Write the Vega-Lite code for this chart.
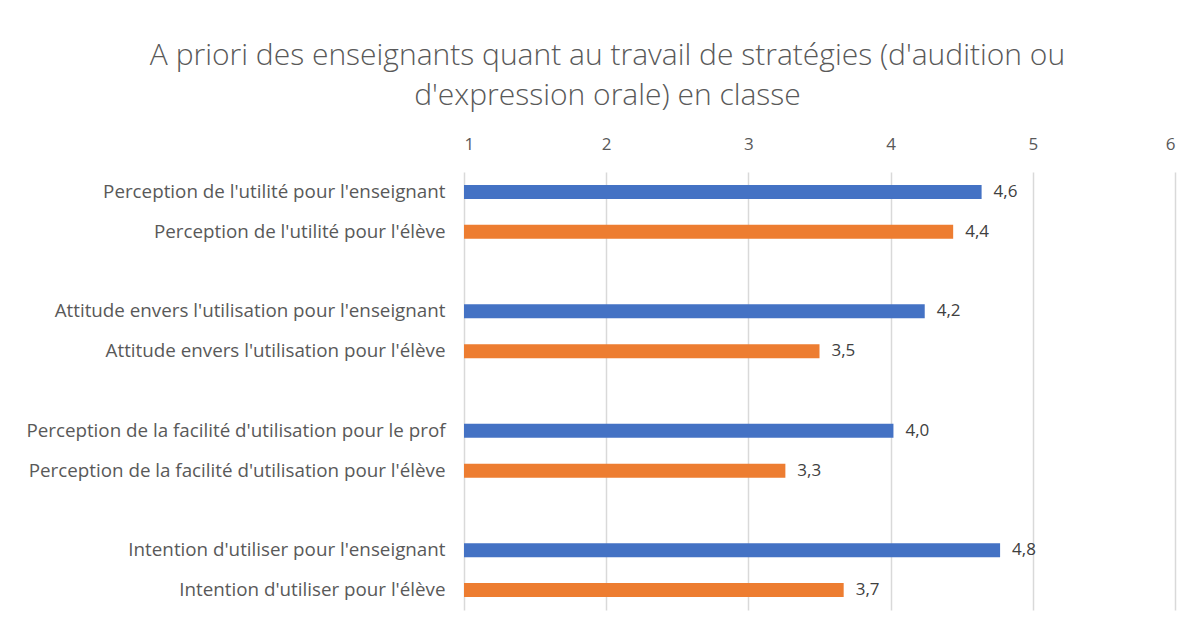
{
  "$schema": "https://vega.github.io/schema/vega-lite/v6.json",
  "autosize": {"type": "none"},
  "width": 711,
  "height": 438,
  "padding": {"left": 464, "top": 172, "right": 19, "bottom": 13},
  "background": "white",
  "config": {
    "locale": {"number": {"decimal": ",", "thousands": " ", "grouping": [3], "currency": ["", " €"]}},
    "view": {"stroke": null},
    "font": "Open Sans"
  },
  "title": {
    "text": ["A priori des enseignants quant au travail de stratégies (d'audition ou", "d'expression orale) en classe"],
    "anchor": "middle",
    "frame": "group",
    "dx": -212,
    "font": "Open Sans",
    "fontSize": 30,
    "fontWeight": 300,
    "color": "#595959",
    "lineHeight": 40,
    "offset": 24
  },
  "data": {
    "values": [
      {"categorie": "Perception de l'utilité pour l'enseignant", "groupe": "enseignant", "valeur": 4.64},
      {"categorie": "Perception de l'utilité pour l'élève", "groupe": "élève", "valeur": 4.44},
      {"categorie": "Attitude envers l'utilisation pour l'enseignant", "groupe": "enseignant", "valeur": 4.24},
      {"categorie": "Attitude envers l'utilisation pour l'élève", "groupe": "élève", "valeur": 3.50},
      {"categorie": "Perception de la facilité d'utilisation pour le prof", "groupe": "enseignant", "valeur": 4.02},
      {"categorie": "Perception de la facilité d'utilisation pour l'élève", "groupe": "élève", "valeur": 3.26},
      {"categorie": "Intention d'utiliser pour l'enseignant", "groupe": "enseignant", "valeur": 4.77},
      {"categorie": "Intention d'utiliser pour l'élève", "groupe": "élève", "valeur": 3.67}
    ]
  },
  "encoding": {
    "y": {
      "field": "categorie",
      "type": "nominal",
      "scale": {
        "domain": [
          "Perception de l'utilité pour l'enseignant",
          "Perception de l'utilité pour l'élève",
          " ",
          "Attitude envers l'utilisation pour l'enseignant",
          "Attitude envers l'utilisation pour l'élève",
          "  ",
          "Perception de la facilité d'utilisation pour le prof",
          "Perception de la facilité d'utilisation pour l'élève",
          "   ",
          "Intention d'utiliser pour l'enseignant",
          "Intention d'utiliser pour l'élève"
        ],
        "paddingInner": 0,
        "paddingOuter": 0
      },
      "axis": {
        "title": null,
        "ticks": false,
        "domain": false,
        "labelFont": "Open Sans",
        "labelFontSize": 18.8,
        "labelColor": "#595959",
        "labelPadding": 19,
        "labelLimit": 500
      }
    }
  },
  "layer": [
    {
      "mark": {"type": "bar", "size": 14},
      "encoding": {
        "x": {
          "field": "valeur",
          "type": "quantitative",
          "scale": {"domain": [1, 6], "nice": false, "zero": false},
          "axis": {
            "orient": "top",
            "title": null,
            "values": [1, 2, 3, 4, 5, 6],
            "format": "d",
            "ticks": false,
            "domain": false,
            "grid": true,
            "gridColor": "#d9d9d9",
            "gridWidth": 1.5,
            "labelFont": "Open Sans",
            "labelFontSize": 17,
            "labelColor": "#595959",
            "labelPadding": 19
          }
        },
        "x2": {"datum": 1},
        "color": {
          "field": "groupe",
          "type": "nominal",
          "scale": {"domain": ["enseignant", "élève"], "range": ["#4472C4", "#ED7D31"]},
          "legend": null
        }
      }
    },
    {
      "mark": {"type": "text", "align": "left", "baseline": "middle", "dx": 12, "font": "Open Sans", "fontSize": 17, "color": "#404040"},
      "encoding": {
        "x": {"field": "valeur", "type": "quantitative"},
        "text": {"field": "valeur", "type": "quantitative", "format": ".1f"}
      }
    }
  ]
}
